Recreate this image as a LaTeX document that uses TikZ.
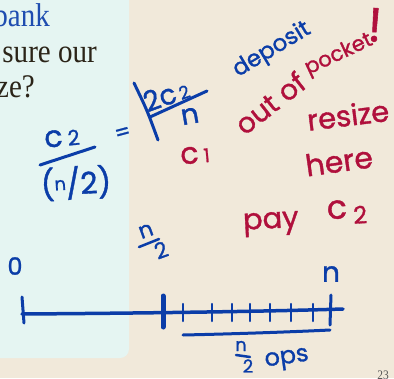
\documentclass[tikz,border=0pt]{standalone}
\usepackage{fontspec}
\newfontfamily\hand[FakeBold=1.2]{Poppins}
\newfontfamily\slidefont[FakeStretch=0.88]{Liberation Serif}
\definecolor{bgbeige}{HTML}{F1E9DA}
\definecolor{boxcyan}{HTML}{E5F5F2}
\definecolor{inkblue}{HTML}{0B3DA8}
\definecolor{inkred}{HTML}{B0103C}
\definecolor{slidetext}{HTML}{2B2418}
\definecolor{slideblue}{HTML}{1F4DB0}
\definecolor{pagegray}{HTML}{555555}
\newcommand\smallfig[2]{{\fontsize{#1}{#1}\selectfont #2}}
\begin{document}
\begin{tikzpicture}[x=1pt,y=-1pt,
  bluehand/.style={text=inkblue, inner sep=0pt, font=\hand\fontsize{#1}{#1}\selectfont},
  redhand/.style={text=inkred, inner sep=0pt, font=\hand\fontsize{#1}{#1}\selectfont},
  slidetxt/.style={text=slidetext, inner sep=0pt, anchor=base east, font=\slidefont\fontsize{33}{34}\selectfont},
  bluestroke/.style={draw=inkblue, line width=3pt, line cap=round, line join=round},
  thickstroke/.style={draw=inkblue, line width=5pt, line cap=round}]
\path[use as bounding box] (0,0) rectangle (394,378);
\clip (0,0) rectangle (394,378);
\fill[bgbeige] (0,0) rectangle (394,378);
\fill[boxcyan, rounded corners=9pt] (-20,-20) rectangle (129,358);
% slide text
\node[slidetxt, text=slideblue] (t1) at (50,26) {bank};
\node[slidetxt] (t2) at (97,62) {sure our};
\node[slidetxt] (t3) at (35,97) {ze?};
\node[text=pagegray, inner sep=0pt, anchor=base, font=\slidefont\fontsize{13}{13}\selectfont] (pg) at (383,379.5) {23};
% left fraction
\node[bluehand=30, rotate=5] (cnum) at (62,138) {c\hspace{5pt}\smallfig{21}{2}};
\coordinate (b1a) at (40,165);
\coordinate (b1b) at (95,147);
\draw[bluestroke] (b1a) -- (b1b);
\node[bluehand=30, rotate=3] (cden) at (76,183) {(\raisebox{5pt}{\smallfig{18}{n}}/2)};
\node[bluehand=22, rotate=15] (eq) at (123,134) {=};
% right fraction
\coordinate (vba) at (134,83);
\coordinate (vbb) at (158,140);
\draw[bluestroke] (vba) .. controls (147,110) .. (vbb);
\node[bluehand=28, rotate=20] (num2) at (166,95) {2c\hspace{3pt}\smallfig{18}{2}};
\coordinate (b2a) at (150,117);
\coordinate (b2b) at (207,91);
\draw[bluestroke] (b2a) -- (b2b);
\node[bluehand=28, rotate=10] (den2) at (190,116) {n};
\node[redhand=30, rotate=5] (c1) at (195,155) {c\hspace{5pt}\smallfig{19}{1}};
% words
\node[bluehand=23, rotate=31] (deposit) at (272,50) {deposit};
\node[redhand=28, rotate=38] (outof) at (270,103) {out of};
\node[redhand=21, rotate=25] (pocket) at (339,55) {pocket};
\node[redhand=48, rotate=-4] (bang) at (375,25) {!};
\node[redhand=29, rotate=7] (resize) at (348,115) {resize};
\node[redhand=30, rotate=8] (here) at (339,161) {here};
\node[redhand=29, rotate=3] (pay) at (271,224) {pay};
\node[redhand=33, rotate=3] (c2) at (347,212) {c\hspace{6pt}\raisebox{-6pt}{\smallfig{24}{2}}};
% number line
\coordinate (l0) at (22,314);
\coordinate (l1) at (343,309);
\draw[bluestroke, line width=3.5pt] (l0) .. controls (100,313.5) and (250,312) .. (l1);
\draw[bluestroke] (22,297) -- (24,323);
\draw[thickstroke] (163,296) -- (163,327);
\foreach \tx in {183,212,232,250,270,291,313}
  \draw[bluestroke, line width=2.5pt] (\tx,304) -- (\tx,321);
\draw[bluestroke] (331,295) -- (330,325);
\coordinate (u0) at (183,335);
\coordinate (u1) at (330,330);
\draw[bluestroke] (u0) .. controls (230,334) and (290,332) .. (u1);
\node[bluehand=24] (zero) at (15,266) {0};
\node[bluehand=28] (nlab) at (331,274) {n};
\node[bluehand=22, rotate=20] (hn) at (146,231) {n};
\coordinate (hba) at (139,247);
\coordinate (hbb) at (159,239);
\draw[bluestroke, line width=2.5pt] (hba) -- (hbb);
\node[bluehand=22, rotate=20] (h2) at (161,250) {2};
\node[bluehand=18] (on) at (241,346) {n};
\coordinate (oba) at (236,355);
\coordinate (obb) at (250,357);
\draw[bluestroke, line width=2.5pt] (oba) -- (obb);
\node[bluehand=18] (o2) at (248,366) {2};
\node[bluehand=24, rotate=8] (ops) at (287,360) {ops};
\end{tikzpicture}
\end{document}
